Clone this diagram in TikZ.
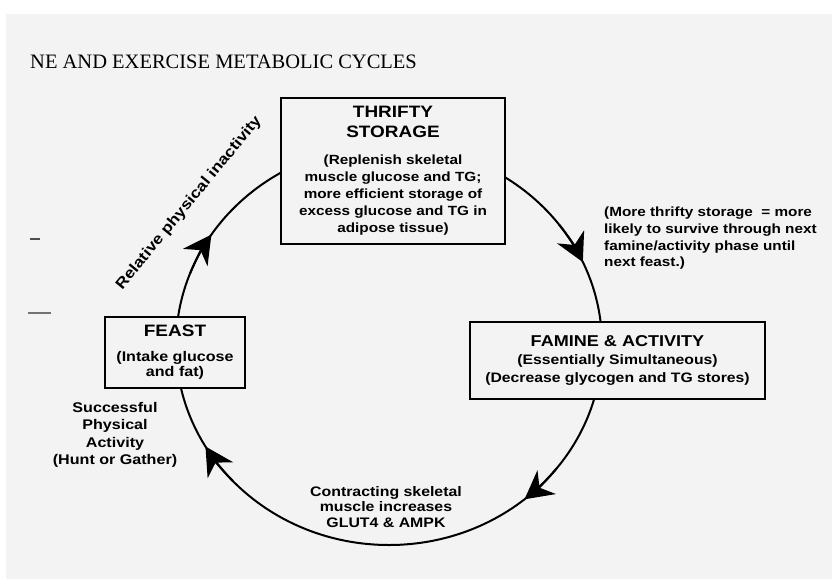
\documentclass[tikz,border=0pt]{standalone}
\usepackage{fontspec}
\setmainfont{Liberation Serif}
\newfontfamily\sfw[FakeStretch=1.15]{Liberation Sans}
\usetikzlibrary{arrows.meta}
\definecolor{bgc}{RGB}{243,243,243}
\newcommand{\hdA}{\sfw\bfseries\fontsize{16.5}{17}\selectfont}
\newcommand{\bdA}{\sfw\bfseries\fontsize{13.3}{17}\selectfont}
\newcommand{\hdF}{\sfw\bfseries\fontsize{16.5}{16}\selectfont}
\newcommand{\bdF}{\sfw\bfseries\fontsize{14}{15.5}\selectfont}
\newcommand{\hdM}{\sfw\bfseries\fontsize{15.7}{18}\selectfont}
\newcommand{\bdM}{\sfw\bfseries\fontsize{13.7}{18}\selectfont}
\begin{document}
\begin{tikzpicture}[x=1pt,y=-1pt,
  box/.style={draw=black, line width=2.4pt, fill=bgc, inner sep=0pt, align=center},
  cyc/.style={draw=black, line width=2pt},
  arr/.style={draw=black, line width=2pt, -{Stealth[length=28pt,width=30pt,inset=9pt]}},
  lbl/.style={inner sep=0pt, align=center}]
\useasboundingbox (0,0) rectangle (832,579);
\fill[white] (0,0) rectangle (832,579);
\fill[bgc] (6,14) rectangle (832,579);
% scan marks
\draw[black!70, line width=1.3pt] (30,239) -- (40,239);
\draw[black!55, line width=1.1pt] (28,313) -- (51,313);
% title
\node[anchor=base west, inner sep=0pt, font=\fontsize{20.5}{24}\selectfont] (title) at (30,68) {NE AND EXERCISE METABOLIC CYCLES};
% cycle
\coordinate (C) at (389,345);
\draw[cyc] (C) ellipse [x radius=213, y radius=200];
\draw[arr] (C) ++(201:213 and 200) arc[start angle=201, end angle=213.5, x radius=213, y radius=200];
\draw[arr] (C) ++(323:213 and 200) arc[start angle=323, end angle=335.5, x radius=213, y radius=200];
\draw[arr] (C) ++(38:213 and 200) arc[start angle=38, end angle=50.5, x radius=213, y radius=200];
\draw[arr] (C) ++(137:213 and 200) arc[start angle=137, end angle=149.5, x radius=213, y radius=200];
% boxes
\node[box, font=\bdA, minimum width=224pt, minimum height=146pt] (thrifty) at (393,171)
  {\hdA THRIFTY\\[3pt]\hdA STORAGE\\[10pt](Replenish skeletal\\muscle glucose and TG;\\more efficient storage of\\excess glucose and TG in\\adipose tissue)};
\node[box, font=\bdF, minimum width=140pt, minimum height=71pt] (feast) at (175,352.5)
  {\hdF FEAST\\[9pt](Intake glucose\\and fat)};
\node[box, font=\bdM, minimum width=295pt, minimum height=77pt] (famine) at (617.5,360.5)
  {\hdM FAMINE \& ACTIVITY\\(Essentially Simultaneous)\\(Decrease glycogen and TG stores)};
% labels
\node[lbl, rotate=50.6, font=\sfw\bfseries\fontsize{15}{17}\selectfont] (inact) at (189,203) {Relative physical inactivity};
\node[lbl, anchor=north west, align=left, font=\sfw\bfseries\fontsize{13.3}{16.7}\selectfont] (more) at (604,207)
  {(More thrifty storage~ = more\\likely to survive through next\\famine/activity phase until\\next feast.)};
\node[lbl, font=\sfw\bfseries\fontsize{13.8}{15.5}\selectfont] (contr) at (386,507)
  {Contracting skeletal\\muscle increases\\GLUT4 \& AMPK};
\node[lbl, font=\sfw\bfseries\fontsize{14}{17.5}\selectfont] (succ) at (115,435)
  {Successful\\Physical\\Activity\\(Hunt or Gather)};
\end{tikzpicture}
\end{document}
